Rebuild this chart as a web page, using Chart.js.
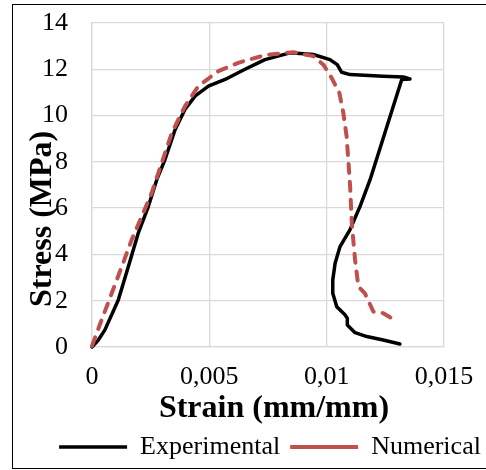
<!DOCTYPE html>
<html>
<head>
<meta charset="utf-8">
<script src="https://cdn.jsdelivr.net/npm/chart.js@4/dist/chart.umd.min.js"></script>
<style>
  html, body { margin: 0; padding: 0; background: #fff; }
  #wrap { position: relative; width: 486px; height: 470px; overflow: hidden; }
  #frame { position: absolute; left: 12px; top: 4px; width: 480px; height: 463px;
           border-top: 1px solid #000; border-left: 1px solid #000; border-bottom: 1px solid #000; pointer-events: none; }
  canvas { position: absolute; left: 0; top: 0; }
</style>
</head>
<body>
<div id="wrap">
  <canvas id="c" width="486" height="470"></canvas>
  <div id="frame"></div>
</div>
<script>
// ---- data ----
const seriesNames = ['Experimental', 'Numerical'];
const xTickValues = [0, 0.005, 0.01, 0.015];
const xTickLabels = ['0', '0,005', '0,01', '0,015'];
const yTickValues = [0, 2, 4, 6, 8, 10, 12, 14];
const xTitle = 'Strain (mm/mm)';
const yTitle = 'Stress (MPa)';

const expStrain = [0, 0.00027, 0.00055, 0.00112, 0.00155, 0.00197, 0.0024, 0.00276, 0.00311, 0.00354, 0.00396, 0.00439, 0.00496, 0.00567, 0.00652, 0.00737, 0.00844, 0.00943, 0.01014, 0.01045, 0.01064, 0.011, 0.01241, 0.01327, 0.01355, 0.0132, 0.01185, 0.01142, 0.01099, 0.01057, 0.01036, 0.01026, 0.01026, 0.01043, 0.01078, 0.01088, 0.01088, 0.01121, 0.01171, 0.01241, 0.01312];
const expStress = [0, 0.3, 0.74, 2.03, 3.48, 4.92, 6.07, 7.23, 8.1, 9.39, 10.26, 10.84, 11.27, 11.56, 12.0, 12.42, 12.71, 12.64, 12.42, 12.2, 11.87, 11.77, 11.7, 11.67, 11.58, 11.56, 7.23, 6.07, 5.06, 4.34, 3.62, 2.9, 2.32, 1.74, 1.39, 1.24, 0.95, 0.62, 0.45, 0.30, 0.13];

const numStrain = [0, 0.00041, 0.00084, 0.00127, 0.00169, 0.00212, 0.00254, 0.00297, 0.0034, 0.00396, 0.00453, 0.00538, 0.00623, 0.00723, 0.00759, 0.00858, 0.00943, 0.00986, 0.01021, 0.01054, 0.01071, 0.01085, 0.01092, 0.011, 0.01107, 0.01121, 0.01135, 0.01163, 0.01199, 0.01241, 0.01277];
const numStress = [0.05, 1.17, 2.32, 3.48, 4.63, 5.64, 6.65, 7.95, 9.25, 10.4, 11.27, 11.92, 12.28, 12.57, 12.64, 12.74, 12.57, 12.2, 11.63, 10.98, 10.12, 9.1, 8.1, 6.94, 5.35, 3.77, 2.61, 2.32, 1.53, 1.46, 1.24];

const toPts = (xs, ys) => xs.map((x, i) => ({ x: x, y: ys[i] }));

const FONT = '"Liberation Serif", "Times New Roman", serif';
const gridColor = '#d9d9d9';
const clear = 'rgba(0,0,0,0)';

const titlePlugin = {
  id: 'customTitles',
  afterLayout(chart) {
    // centre the legend row under the plot like the reference
    const lg = chart.legend;
    if (lg) {
      const shift = 48;
      lg.left += shift;
      lg.right += shift;
      if (lg.adjustHitBoxes) lg.adjustHitBoxes();
    }
  },
  afterDraw(chart) {
    const ctx = chart.ctx;
    ctx.save();
    ctx.fillStyle = '#000';
    ctx.font = 'bold 32px ' + FONT;
    ctx.textAlign = 'center';
    ctx.textBaseline = 'alphabetic';
    ctx.fillText(xTitle, 274, 417);
    ctx.translate(50.5, 307);
    ctx.rotate(-Math.PI / 2);
    ctx.textAlign = 'left';
    ctx.fillText(yTitle, 0, 0);
    ctx.restore();
  }
};

new Chart(document.getElementById('c'), {
  type: 'scatter',
  data: {
    datasets: [
      {
        label: seriesNames[0],
        data: toPts(expStrain, expStress),
        showLine: true,
        borderColor: '#000000',
        backgroundColor: '#000000',
        borderWidth: 3.5,
        borderJoinStyle: 'round',
        borderCapStyle: 'round',
        pointRadius: 0,
        tension: 0,
        order: 2,
        clip: false
      },
      {
        label: seriesNames[1],
        data: toPts(numStrain, numStress),
        showLine: true,
        borderColor: '#c0504d',
        backgroundColor: '#c0504d',
        borderWidth: 4,
        borderDash: [9, 9],
        borderCapStyle: 'round',
        borderJoinStyle: 'round',
        pointRadius: 0,
        tension: 0,
        order: 1,
        clip: false
      }
    ]
  },
  options: {
    responsive: false,
    animation: false,
    layout: { padding: { left: 0, right: 42, top: 23, bottom: 0 } },
    plugins: {
      tooltip: { enabled: false },
      legend: {
        position: 'bottom',
        fullSize: true,
        labels: {
          usePointStyle: true,
          pointStyle: 'line',
          pointStyleWidth: 68,
          boxHeight: 26,
          padding: 10,
          color: '#000',
          font: { family: FONT, size: 26 },
          sort: (a, b) => a.datasetIndex - b.datasetIndex
        }
      }
    },
    scales: {
      x: {
        type: 'linear',
        min: 0,
        max: 0.015,
        afterBuildTicks: (scale) => { scale.ticks = xTickValues.map(v => ({ value: v })); },
        afterFit: (scale) => { scale.height = 77; },
        ticks: {
          padding: 3,
          color: '#000',
          font: { family: FONT, size: 26 },
          maxRotation: 0,
          callback: (v, i) => xTickLabels[i]
        },
        grid: { color: gridColor, lineWidth: 1.3, drawTicks: true, tickLength: 12, tickColor: clear },
        border: { color: gridColor, width: 1.3 }
      },
      y: {
        type: 'linear',
        min: 0,
        max: 14,
        afterBuildTicks: (scale) => { scale.ticks = yTickValues.map(v => ({ value: v })); },
        afterFit: (scale) => { scale.width = 92; },
        ticks: {
          padding: 3,
          color: '#000',
          font: { family: FONT, size: 26 },
          callback: (v) => String(v)
        },
        grid: { color: gridColor, lineWidth: 1.3, drawTicks: true, tickLength: 21, tickColor: clear },
        border: { color: gridColor, width: 1.3 }
      }
    }
  },
  plugins: [titlePlugin]
});
</script>
</body>
</html>
